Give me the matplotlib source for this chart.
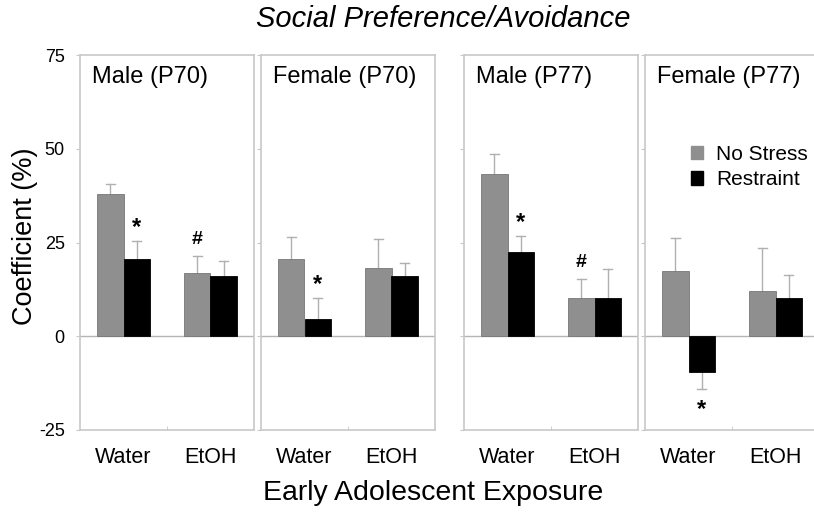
import matplotlib
matplotlib.use("Agg")
import matplotlib.pyplot as plt
from matplotlib.patches import Patch

plt.rcParams["font.family"] = ["Liberation Sans", "DejaVu Sans"]
plt.rcParams["axes.unicode_minus"] = False

panels = ["Male (P70)", "Female (P70)", "Male (P77)", "Female (P77)"]
groups = ["Water", "EtOH"]

# values per panel: [Water, EtOH]
no_stress = [[38.0, 17.0], [20.6, 18.2], [43.3, 10.3], [17.4, 12.2]]
no_stress_err = [[2.5, 4.5], [5.8, 7.7], [5.4, 5.1], [8.7, 11.3]]
restraint = [[20.6, 16.1], [4.6, 16.1], [22.6, 10.1], [-9.5, 10.3]]
restraint_err = [[4.7, 4.1], [5.5, 3.5], [4.2, 7.9], [4.6, 6.1]]

# significance marks: (panel, group, series, text)
marks = [(0, 0, 1, "*"), (0, 1, 0, "#"), (1, 0, 1, "*"),
         (2, 0, 1, "*"), (2, 1, 0, "#"), (3, 0, 1, "*")]

yticks = [-25, 0, 25, 50, 75]

GRAY = "#8f8f8f"
LINE = "#c8c8c8"
W = 814
H = 512

fig = plt.figure(figsize=(W / 100, H / 100), dpi=100)

lefts = [80, 261, 464, 645]
widths = [174, 174, 174, 169]
top, bottom = 55, 430
bw = 0.3

for i, name in enumerate(panels):
    ax = fig.add_axes([lefts[i] / W, 1 - bottom / H, widths[i] / W, (bottom - top) / H])
    xs = [0.5, 1.5]
    for j in range(2):
        x = xs[j]
        ax.bar(x - bw / 2, no_stress[i][j], bw, color=GRAY, edgecolor="#777777", lw=0.6, zorder=3)
        ax.bar(x + bw / 2, restraint[i][j], bw, color="black", edgecolor="black", lw=0.6, zorder=3)
        for xx, v, e in [(x - bw / 2, no_stress[i][j], no_stress_err[i][j]),
                         (x + bw / 2, restraint[i][j], restraint_err[i][j])]:
            end = v + e if v >= 0 else v - e
            ax.plot([xx, xx], [v, end], color="#b0b0b0", lw=1, zorder=2)
            ax.plot([xx - 0.05, xx + 0.05], [end, end], color="#b0b0b0", lw=1, zorder=2)
    for (p, g, s, txt) in marks:
        if p != i:
            continue
        xx = xs[g] + (bw / 2 if s else -bw / 2)
        v = restraint[p][g] if s else no_stress[p][g]
        e = restraint_err[p][g] if s else no_stress_err[p][g]
        if v >= 0:
            yy = v + e + 2 if txt == "#" else v + e + 0.5
            ax.text(xx, yy, txt, ha="center", va="bottom", fontsize=17 if txt == "*" else 14,
                    fontweight="bold")
        else:
            ax.text(xx, v - e - 2.5, txt, ha="center", va="top", fontsize=17, fontweight="bold")
    ax.axhline(0, color="#b5b5b5", lw=1, zorder=1)
    ax.set_xlim(0, widths[i] / 87)
    ax.set_ylim(-25, 75)
    ax.set_yticks(yticks)
    ax.set_xticks(xs)
    ax.set_xticks([1.0], minor=True)
    ax.set_xticklabels(groups, fontsize=15.5)
    ax.tick_params(axis="x", length=0, pad=12)
    ax.tick_params(axis="x", which="minor", direction="in", length=3, color=LINE)
    ax.tick_params(axis="y", direction="out", length=3, color=LINE, labelsize=13, pad=8)
    if i > 0:
        ax.set_yticklabels([])
    for sp in ax.spines.values():
        sp.set_color(LINE)
        sp.set_linewidth(1.2)
    if i == 3:
        ax.spines["right"].set_visible(False)
    ax.text(0.07, 0.97, name, transform=ax.transAxes, ha="left", va="top", fontsize=17)
    if i == 3:
        ax.legend(handles=[Patch(color=GRAY, label="No Stress"), Patch(color="black", label="Restraint")],
                  loc="upper left", bbox_to_anchor=(0.16, 0.81), frameon=False, fontsize=15,
                  handlelength=0.6, handleheight=0.6, handletextpad=0.6, labelspacing=0.3)

fig.text(443 / W, 1 - 19 / H, "Social Preference/Avoidance", ha="center", va="center",
         fontsize=21, style="italic")
fig.text(433 / W, 1 - 493 / H, "Early Adolescent Exposure", ha="center", va="center", fontsize=20.5)
fig.text(25 / W, 1 - 236 / H, "Coefficient (%)", ha="center", va="center", fontsize=19.5, rotation=90)

fig.savefig("out.png", dpi=100)
